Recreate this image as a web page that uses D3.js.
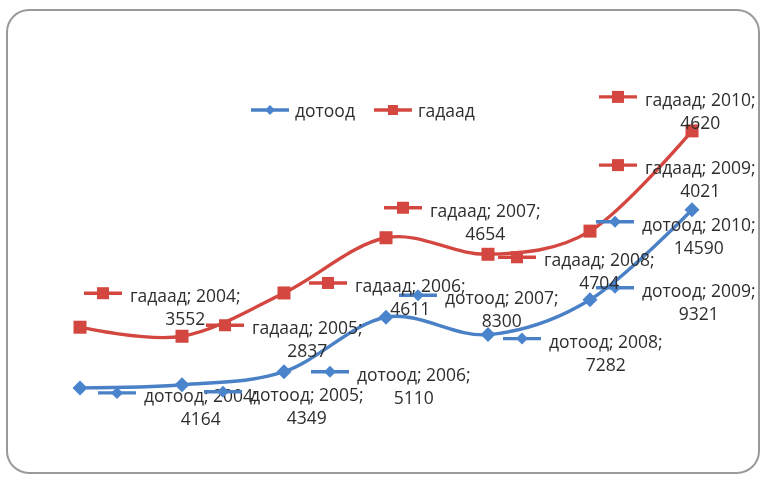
<!DOCTYPE html>
<html>
<head>
<meta charset="utf-8">
<script src="https://cdn.jsdelivr.net/npm/d3@7/dist/d3.min.js"></script>
<style>
  html, body { margin: 0; padding: 0; background: #ffffff; }
  svg { display: block; }
  text { font-family: "Open Sans", Lato, sans-serif; fill: #2e2e2e; }
</style>
</head>
<body>
<svg id="chart" width="764" height="477"></svg>
<script>
// Years on the category axis
const years = ["2004", "2005", "2006", "2007", "2008", "2009", "2010"];
// Domestic values ("дотоод")
const dotood = [4164, 4349, 5110, 8300, 7282, 9321, 14590];
// Foreign values ("гадаад"), stacked on top of the domestic series
const gadaad = [3552, 2837, 4611, 4654, 4704, 4021, 4620];
// Series names
const seriesNames = ["дотоод", "гадаад"];

// Where each data label's legend key sits, relative to its point
const labelOffsetsDotood = [[37, 5], [41, 7], [46, 0], [32, -22], [34, 4], [25, -12], [-77, 12]];
const labelOffsetsGadaad = [[23, -34], [43, -11], [44, -10], [17, -30], [29, 3], [28, -66], [-74, -34]];

const FONT = 17.5;
const svg = d3.select("#chart");

const colors = {
  "дотоод": { line: "#4a80c6", fill: "#4a84cc" },
  "гадаад": { line: "#d4463f", fill: "#d4463f" }
};

// Slight softening of drawn marks
const defs = svg.append("defs");
const f = defs.append("filter").attr("id", "soft").attr("x", "-5%").attr("y", "-5%").attr("width", "110%").attr("height", "110%");
f.append("feGaussianBlur").attr("stdDeviation", 0.6);

// Chart frame with rounded corners
svg.append("rect")
  .attr("x", 7).attr("y", 10).attr("width", 752).attr("height", 463)
  .attr("rx", 22).attr("ry", 22)
  .attr("fill", "#ffffff")
  .attr("stroke", "#9a9a9a").attr("stroke-width", 2);

// Scales: category points, values stacked from zero
const x = d3.scalePoint().domain(years).range([80, 692]);
const y = d3.scaleLinear().domain([0, 25000]).range([459, 32]);

const stacked = years.map((yr, i) => ({ year: yr, d: dotood[i], g: gadaad[i], top: dotood[i] + gadaad[i] }));

const line = d3.line().curve(d3.curveCardinal.tension(0));

const plot = svg.append("g").attr("filter", "url(#soft)");

function diamond(g, cx, cy, r, color) {
  g.append("path")
    .attr("d", `M${cx},${cy - r}L${cx + r},${cy}L${cx},${cy + r}L${cx - r},${cy}Z`)
    .attr("fill", color);
}
function square(g, cx, cy, s, color) {
  g.append("rect").attr("x", cx - s / 2).attr("y", cy - s / 2).attr("width", s).attr("height", s).attr("fill", color);
}

const seriesDefs = [
  { name: seriesNames[0], pts: stacked.map(p => [x(p.year), y(p.d)]), values: dotood, offsets: labelOffsetsDotood, marker: "diamond" },
  { name: seriesNames[1], pts: stacked.map(p => [x(p.year), y(p.top)]), values: gadaad, offsets: labelOffsetsGadaad, marker: "square" }
];

// Lines and point markers
seriesDefs.forEach(s => {
  const c = colors[s.name];
  plot.append("path")
    .attr("d", line(s.pts))
    .attr("fill", "none")
    .attr("stroke", c.line)
    .attr("stroke-width", 3.4);
  s.pts.forEach(([px, py]) => {
    if (s.marker === "diamond") diamond(plot, px, py, 7.5, c.fill);
    else square(plot, px, py, 13, c.fill);
  });
});

// Small legend key: line with a marker in the middle
function legendKey(g, cx, cy, s, big) {
  const c = colors[s.name];
  g.append("line")
    .attr("x1", cx - 19).attr("x2", cx + 19).attr("y1", cy).attr("y2", cy)
    .attr("stroke", c.line).attr("stroke-width", 3.4);
  if (s.marker === "diamond") diamond(g, cx, cy, big ? 6 : 5, c.fill);
  else square(g, cx, cy, big ? 12 : 10, c.fill);
}

// Data labels: key, "series; year;" and the value beneath
const labels = svg.append("g").attr("filter", "url(#soft)");
seriesDefs.forEach(s => {
  s.pts.forEach(([px, py], i) => {
    const [dx, dy] = s.offsets[i];
    const kx = px + dx, ky = py + dy;
    legendKey(labels, kx, ky, s, true);
    const t1 = labels.append("text")
      .attr("x", kx + 27).attr("y", ky + 2)
      .attr("dominant-baseline", "central")
      .attr("font-size", FONT)
      .text(`${s.name}; ${years[i]};`);
    const w = t1.node().getComputedTextLength();
    labels.append("text")
      .attr("x", kx + 27 + w / 2).attr("y", ky + 25)
      .attr("dominant-baseline", "central")
      .attr("text-anchor", "middle")
      .attr("font-size", FONT)
      .text(s.values[i]);
  });
});

// Legend above the plot
const legend = svg.append("g").attr("filter", "url(#soft)");
let lx = 270;
seriesDefs.forEach(s => {
  legendKey(legend, lx, 110, s, false);
  const t = legend.append("text")
    .attr("x", lx + 25).attr("y", 110)
    .attr("dominant-baseline", "central")
    .attr("font-size", FONT)
    .text(s.name);
  lx += 25 + t.node().getComputedTextLength() + 38;
});
</script>
</body>
</html>
